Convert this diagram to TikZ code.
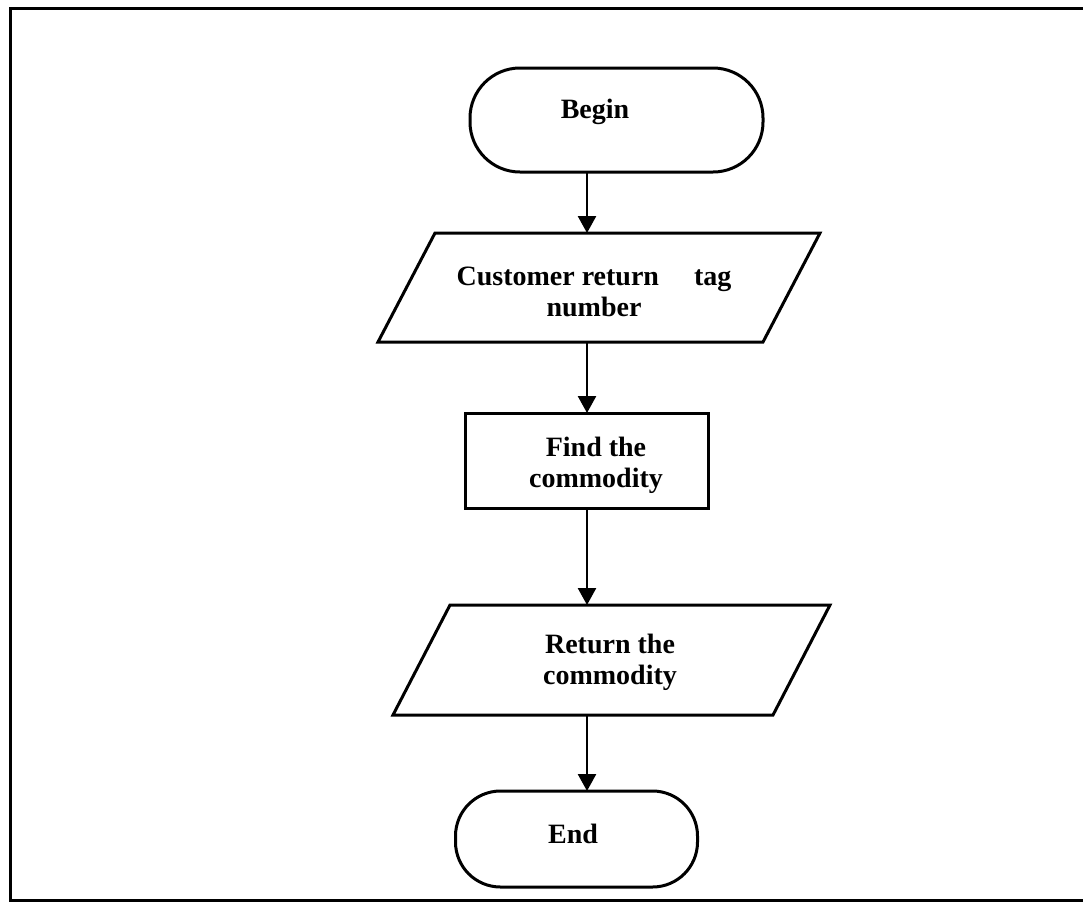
\documentclass[tikz,border=0pt]{standalone}
\usepackage{fontspec}
\setmainfont{Liberation Serif}
\usetikzlibrary{arrows.meta}

\begin{document}
\begin{tikzpicture}[x=1pt,y=-1pt,
  every node/.style={inner sep=0pt,outer sep=0pt},
  txt/.style={font=\bfseries\fontsize{28}{31}\selectfont,align=center},
  shapeline/.style={draw=black,line width=3pt,inner sep=4pt},
  terminal/.style={shapeline,rectangle},
  procbox/.style={shapeline,rectangle},
  iobody/.style={rectangle,inner sep=4pt},
  ioline/.style={line width=3pt,line join=miter},
  flow/.style={line width=2.6pt,-{Triangle[length=17pt,width=18pt]}},
  frame/.style={line width=3pt}]

\useasboundingbox (0,0) rectangle (1083,903);

% page frame
\draw[frame] (1090,8) -- (10,8) -- (10,900.5) -- (1090,900.5);

% flowchart steps
\node[terminal,rounded corners=50pt,minimum width=293pt,minimum height=104pt,
  label={[txt,xshift=-21.5pt,yshift=8pt]center:Begin}] (begin) at (616.5,120) {};

\node[iobody,minimum width=385pt,minimum height=109pt,
  label={[txt,xshift=-5pt,yshift=-4pt]center:Customer return\hspace{35pt}tag\\number}] (input) at (599,287.5) {};
\draw[ioline] ([xshift=-28.5pt]input.south west) -- ([xshift=28.5pt]input.north west)
  -- ([xshift=28.5pt]input.north east) -- ([xshift=-28.5pt]input.south east) -- cycle;

\node[procbox,minimum width=243pt,minimum height=95pt,
  label={[txt,xshift=9.5pt,yshift=-4.5pt]center:Find the\\commodity}] (find) at (586.5,460.5) {};

\node[iobody,minimum width=380pt,minimum height=110pt,
  label={[txt,xshift=-1.5pt,yshift=-2.5pt]center:Return the\\commodity}] (output) at (611.5,660) {};
\draw[ioline] ([xshift=-28.5pt]output.south west) -- ([xshift=28.5pt]output.north west)
  -- ([xshift=28.5pt]output.north east) -- ([xshift=-28.5pt]output.south east) -- cycle;

\node[terminal,rounded corners=45pt,minimum width=242pt,minimum height=96pt,
  label={[txt,xshift=-3.5pt,yshift=5pt]center:End}] (end) at (576.5,839) {};

% connectors share one vertical axis
\coordinate (axis) at (587,0);
\draw[flow] (begin.south -| axis) -- (input.north -| axis);
\draw[flow] (input.south -| axis) -- (find.north -| axis);
\draw[flow] (find.south -| axis) -- (output.north -| axis);
\draw[flow] (output.south -| axis) -- (end.north -| axis);
\end{tikzpicture}
\end{document}
